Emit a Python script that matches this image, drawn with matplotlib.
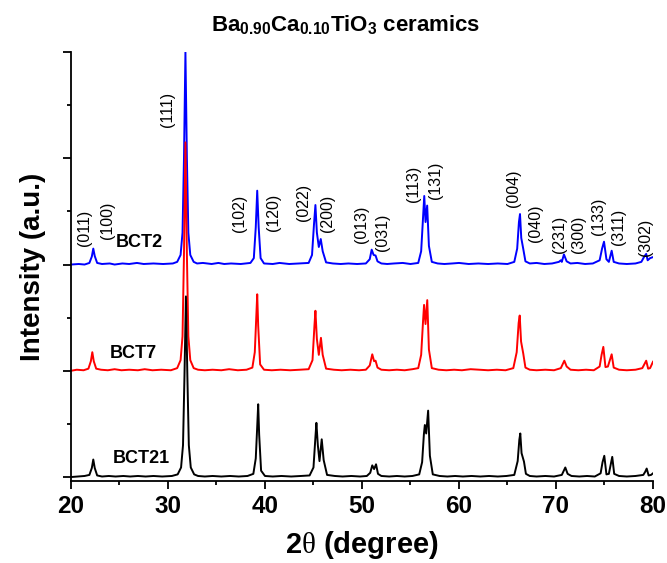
import matplotlib
matplotlib.use("Agg")
import matplotlib.pyplot as plt
from matplotlib.ticker import MultipleLocator

plt.rcParams['font.family'] = ['Liberation Sans', 'DejaVu Sans']
plt.rcParams['mathtext.fontset'] = 'custom'
plt.rcParams['mathtext.rm'] = 'Liberation Serif'
plt.rcParams['mathtext.bf'] = 'Liberation Sans:bold'

# --- data (intensity relative to each baseline) ---
bct2_x = [20.0, 20.8, 21.4, 21.9, 22.15, 22.3, 22.45, 22.7, 23.2, 24.0, 24.5, 25.3, 26.0, 26.8,
          27.5, 28.5, 29.5, 30.5, 30.95, 31.3, 31.5, 31.65, 31.8, 31.95, 32.1, 32.3, 32.65, 33.0,
          33.6, 34.5, 35.2, 35.8, 36.5, 37.5, 38.5, 38.85, 39.05, 39.2, 39.35, 39.55, 39.9, 40.8,
          41.5, 42.5, 43.5, 44.5, 44.85, 45.05, 45.2, 45.35, 45.55, 45.75, 45.95, 46.3, 47.0,
          47.8, 48.6, 49.5, 50.4, 50.8, 51.0, 51.2, 51.4, 51.6, 52.0, 52.6, 53.3, 54.2, 55.0,
          55.8, 56.1, 56.3, 56.42, 56.55, 56.72, 56.9, 57.2, 57.8, 58.5, 59.3, 60.0, 61.0, 62.0,
          63.0, 64.0, 65.0, 65.7, 66.0, 66.18, 66.29, 66.42, 66.62, 66.85, 67.3, 68.0, 68.8,
          69.6, 70.3, 70.5, 70.6, 70.82, 71.1, 71.5, 72.2, 73.0, 73.8, 74.5, 74.75, 74.95, 75.2,
          75.45, 75.74, 75.95, 76.5, 77.3, 78.2, 78.8, 79.1, 79.3, 79.45, 79.7, 80.0]
bct2_y = [0.00, 0.01, 0.00, 0.03, 0.15, 0.30, 0.16, 0.03, 0.01, 0.02, 0.00, 0.02, 0.01, 0.03,
          0.01, 0.02, 0.01, 0.02, 0.05, 0.18, 0.60, 2.00, 4.00, 2.00, 0.60, 0.18, 0.05, 0.02,
          0.03, 0.01, 0.03, 0.01, 0.02, 0.01, 0.03, 0.12, 0.70, 1.39, 0.70, 0.12, 0.02, 0.01,
          0.03, 0.01, 0.02, 0.03, 0.18, 0.75, 1.12, 0.60, 0.33, 0.48, 0.25, 0.04, 0.02,
          0.01, 0.02, 0.01, 0.02, 0.10, 0.28, 0.18, 0.17, 0.06, 0.02, 0.01, 0.02, 0.03, 0.01,
          0.03, 0.25, 0.90, 1.29, 0.80, 1.11, 0.35, 0.05, 0.02, 0.01, 0.02, 0.03, 0.01, 0.02,
          0.01, 0.02, 0.01, 0.05, 0.30, 0.80, 0.95, 0.50, 0.30, 0.06, 0.02, 0.03, 0.01,
          0.02, 0.05, 0.08, 0.05, 0.19, 0.06, 0.02, 0.03, 0.01, 0.02, 0.08, 0.30, 0.43, 0.10,
          0.05, 0.26, 0.05, 0.02, 0.01, 0.02, 0.05, 0.15, 0.20, 0.08, 0.12, 0.14]

bct7_x = [20.0, 20.6, 21.3, 21.8, 22.05, 22.2, 22.35, 22.6, 23.1, 23.8, 24.5, 25.2, 26.0, 26.9,
          27.6, 28.4, 29.3, 30.3, 30.95, 31.3, 31.5, 31.65, 31.8, 31.95, 32.1, 32.3, 32.65, 33.1,
          33.8, 34.6, 35.5, 36.3, 37.2, 38.1, 38.7, 38.95, 39.1, 39.2, 39.3, 39.5, 39.9, 40.7,
          41.6, 42.6, 43.6, 44.5, 44.9, 45.1, 45.2, 45.35, 45.55, 45.77, 45.95, 46.3, 47.1, 47.9,
          48.8, 49.7, 50.4, 50.8, 51.06, 51.25, 51.4, 51.6, 52.0, 52.8, 53.6, 54.4, 55.2, 55.8,
          56.1, 56.3, 56.4, 56.55, 56.73, 56.9, 57.2, 57.9, 58.7, 59.5, 60.3, 61.2, 62.1, 63.0,
          63.9, 64.8, 65.6, 65.95, 66.15, 66.26, 66.4, 66.62, 66.85, 67.3, 68.0, 68.9, 69.8,
          70.5, 70.86, 71.1, 71.5, 72.3, 73.1, 73.9, 74.5, 74.7, 74.88, 75.1, 75.35, 75.74,
          75.95, 76.5, 77.3, 78.2, 78.9, 79.1, 79.3, 79.5, 79.7, 80.0]
bct7_y = [0.00, 0.02, 0.01, 0.04, 0.18, 0.35, 0.18, 0.04, 0.02, 0.01, 0.03, 0.01, 0.02, 0.01,
          0.03, 0.01, 0.02, 0.01, 0.05, 0.20, 0.65, 2.20, 4.30, 2.20, 0.65, 0.20, 0.05, 0.02,
          0.01, 0.02, 0.01, 0.03, 0.01, 0.02, 0.06, 0.35, 1.00, 1.44, 0.85, 0.12, 0.02, 0.01,
          0.02, 0.01, 0.02, 0.03, 0.20, 0.85, 1.13, 0.60, 0.30, 0.62, 0.30, 0.04, 0.02, 0.01,
          0.02, 0.01, 0.02, 0.10, 0.31, 0.18, 0.19, 0.06, 0.02, 0.01, 0.02, 0.01, 0.03, 0.05,
          0.30, 0.95, 1.24, 0.88, 1.33, 0.40, 0.05, 0.02, 0.01, 0.02, 0.01, 0.03, 0.02, 0.01,
          0.02, 0.01, 0.05, 0.35, 0.90, 1.04, 0.55, 0.33, 0.06, 0.02, 0.01, 0.02, 0.01,
          0.05, 0.19, 0.08, 0.02, 0.01, 0.02, 0.01, 0.08, 0.30, 0.45, 0.07, 0.08, 0.31,
          0.06, 0.02, 0.01, 0.02, 0.05, 0.12, 0.19, 0.04, 0.05, 0.17]

bct21_x = [20.0, 20.7, 21.4, 21.9, 22.15, 22.3, 22.45, 22.7, 23.2, 23.9, 24.6, 25.4, 26.1, 26.9,
           27.7, 28.5, 29.4, 30.4, 31.0, 31.35, 31.55, 31.7, 31.85, 32.0, 32.15, 32.35, 32.7,
           33.1, 33.8, 34.6, 35.5, 36.4, 37.3, 38.2, 38.8, 39.05, 39.2, 39.3, 39.4, 39.6, 40.0,
           40.8, 41.7, 42.7, 43.7, 44.6, 45.0, 45.2, 45.3, 45.45, 45.62, 45.85, 46.05, 46.4,
           47.2, 48.0, 48.9, 49.8, 50.5, 50.85, 51.06, 51.25, 51.45, 51.65, 52.0, 52.8, 53.6,
           54.4, 55.2, 55.9, 56.2, 56.38, 56.48, 56.62, 56.82, 57.0, 57.3, 58.0, 58.8, 59.6,
           60.4, 61.3, 62.2, 63.1, 64.0, 64.9, 65.7, 66.05, 66.22, 66.32, 66.45, 66.7, 66.9,
           67.3, 68.0, 68.9, 69.8, 70.6, 70.96, 71.2, 71.6, 72.4, 73.2, 74.0, 74.6, 74.8, 74.98,
           75.2, 75.45, 75.8, 76.0, 76.5, 77.3, 78.2, 79.0, 79.2, 79.35, 79.55, 79.8, 80.0]
bct21_y = [0.00, 0.01, 0.02, 0.04, 0.17, 0.33, 0.17, 0.03, 0.01, 0.02, 0.01, 0.02, 0.01, 0.02,
           0.01, 0.02, 0.01, 0.02, 0.05, 0.18, 0.60, 1.90, 3.40, 1.90, 0.60, 0.18, 0.05,
           0.02, 0.01, 0.02, 0.01, 0.02, 0.01, 0.02, 0.06, 0.35, 0.95, 1.37, 0.80, 0.12, 0.02,
           0.01, 0.02, 0.01, 0.02, 0.03, 0.18, 0.75, 1.02, 0.60, 0.30, 0.71, 0.32, 0.04,
           0.02, 0.01, 0.02, 0.01, 0.02, 0.08, 0.22, 0.15, 0.24, 0.06, 0.02, 0.01, 0.02,
           0.01, 0.02, 0.05, 0.28, 0.80, 0.98, 0.82, 1.25, 0.40, 0.05, 0.02, 0.01, 0.02,
           0.01, 0.02, 0.01, 0.02, 0.01, 0.02, 0.04, 0.30, 0.70, 0.82, 0.45, 0.29, 0.06,
           0.02, 0.01, 0.02, 0.01, 0.04, 0.18, 0.06, 0.02, 0.01, 0.02, 0.01, 0.07, 0.28, 0.40,
           0.05, 0.06, 0.38, 0.06, 0.02, 0.01, 0.02, 0.04, 0.10, 0.16, 0.03, 0.04, 0.07]

offsets = {'BCT2': 4.0, 'BCT7': 2.0, 'BCT21': 0.0}
colors = {'BCT2': 'blue', 'BCT7': 'red', 'BCT21': 'black'}

# sample name labels: (x, y) in data units
sample_labels = {'BCT2': (27.0, 4.41), 'BCT7': (26.4, 2.32), 'BCT21': (27.25, 0.35)}

# Miller indices above the BCT2 pattern
hkl_labels = ['(011)', '(100)', '(111)', '(102)', '(120)', '(022)', '(200)', '(013)', '(031)',
              '(113)', '(131)', '(004)', '(040)', '(231)', '(300)', '(133)', '(311)', '(302)']
hkl_x = [21.44, 23.78, 29.9, 37.42, 40.93, 44.02, 46.49, 49.9, 52.16,
         55.26, 57.63, 65.67, 67.84, 70.41, 72.27, 74.43, 76.49, 79.18]
hkl_y = [4.69, 4.84, 6.91, 4.97, 4.99, 5.16, 4.97, 4.75, 4.60,
         5.51, 5.59, 5.44, 4.78, 4.56, 4.56, 4.90, 4.71, 4.52]

fig = plt.figure(figsize=(6.67, 5.63), dpi=100)
ax = fig.add_axes([0.1064, 0.1456, 0.8726, 0.762])

series = [('BCT2', bct2_x, bct2_y), ('BCT7', bct7_x, bct7_y), ('BCT21', bct21_x, bct21_y)]
for name, xs, ys in series:
    off = offsets[name]
    ax.plot(xs, [v + off for v in ys], color=colors[name], lw=1.4, clip_on=True)
    lx, ly = sample_labels[name]
    ax.text(lx, ly, name, fontsize=13, fontweight='bold', ha='center', va='center')

for lab, x, y in zip(hkl_labels, hkl_x, hkl_y):
    ax.text(x, y, lab, rotation=90, fontsize=11.5, ha='center', va='center')

ax.set_xlim(20, 80)
ax.set_ylim(-0.075, 8.0)
ax.spines['top'].set_visible(False)
ax.spines['right'].set_visible(False)
for s in ('left', 'bottom'):
    ax.spines[s].set_linewidth(1.3)

ax.xaxis.set_major_locator(MultipleLocator(10))
ax.xaxis.set_minor_locator(MultipleLocator(5))
ax.yaxis.set_major_locator(MultipleLocator(2))
ax.yaxis.set_minor_locator(MultipleLocator(1))
ax.tick_params(axis='both', which='major', direction='out', length=6, width=1.3)
ax.tick_params(axis='both', which='minor', direction='out', length=3, width=1.3)
ax.tick_params(axis='y', which='both', labelleft=False)
ax.tick_params(axis='x', labelsize=17.5, pad=4)
for t in ax.get_xticklabels():
    t.set_fontweight('bold')

ax.set_xlabel(r'2$\mathrm{\theta}$ (degree)', fontsize=21, fontweight='bold', labelpad=8)
ax.set_ylabel('Intensity (a.u.)', fontsize=20, fontweight='bold', labelpad=12)
fig.text(0.518, 0.955, r'Ba$_{\mathbf{0.90}}$Ca$_{\mathbf{0.10}}$TiO$_{\mathbf{3}}$ ceramics',
         fontsize=16, fontweight='bold', ha='center', va='center')

fig.savefig('out.png', dpi=100)
